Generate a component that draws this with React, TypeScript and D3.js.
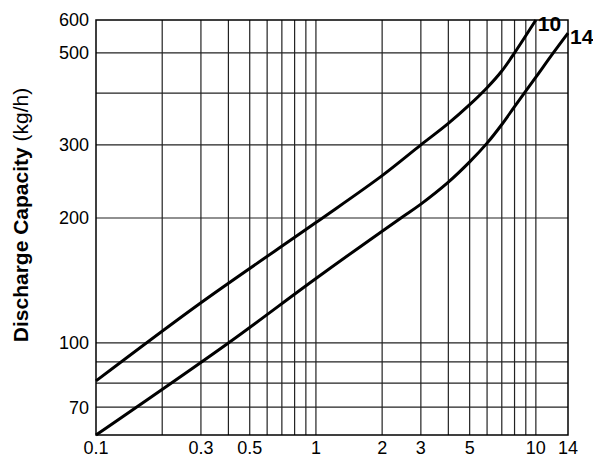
import React, { useEffect, useRef } from 'react';
import * as d3 from 'd3';

// pressure (x) vs discharge capacity (kg/h), two nozzle sizes
const flow10X = [0.1, 0.3, 1, 2, 3, 4, 5, 6, 7, 8, 10];
const flow10Y = [81, 125, 195, 253, 300, 338, 375, 412, 452, 500, 600];

const flow14X = [0.1, 0.4, 1, 2.4, 3, 4, 5, 6, 7, 8, 10, 12, 14];
const flow14Y = [60, 100, 143, 199, 216, 244, 273, 303, 336, 371, 437, 500, 558];

const xGrid = [0.2, 0.3, 0.4, 0.5, 0.6, 0.7, 0.8, 0.9, 1, 2, 3, 4, 5, 6, 7, 8, 9, 10];
const yGrid = [70, 80, 90, 100, 200, 300, 400, 500];
const xTickLabels = [0.1, 0.3, 0.5, 1, 2, 3, 5, 10, 14];
const yTickLabels = [70, 100, 200, 300, 500, 600];

const App: React.FC = () => {
    const svgRef = useRef<SVGSVGElement>(null);

    const width = 593;
    const height = 462;

    useEffect(() => {
        if (!svgRef.current) return;
        const svg = d3.select(svgRef.current);
        svg.selectAll('*').remove();

        const font = 'Liberation Sans, Arial, sans-serif';
        const margin = { top: 20, right: 25, bottom: 27, left: 96 };
        const innerWidth = width - margin.left - margin.right;
        const innerHeight = height - margin.top - margin.bottom;

        const xScale = d3.scaleLog().domain([0.1, 14]).range([0, innerWidth]);
        const yScale = d3.scaleLog().domain([60, 600]).range([innerHeight, 0]);

        const g = svg.append('g')
            .attr('transform', `translate(${margin.left},${margin.top})`);

        // grid
        g.selectAll('.vgrid').data(xGrid).enter().append('line')
            .attr('x1', d => xScale(d)).attr('x2', d => xScale(d))
            .attr('y1', 0).attr('y2', innerHeight)
            .attr('stroke', '#222').attr('stroke-width', 1.2);

        g.selectAll('.hgrid').data(yGrid).enter().append('line')
            .attr('y1', d => yScale(d)).attr('y2', d => yScale(d))
            .attr('x1', 0).attr('x2', innerWidth)
            .attr('stroke', '#222').attr('stroke-width', 1.2);

        g.append('rect')
            .attr('width', innerWidth).attr('height', innerHeight)
            .attr('fill', 'none').attr('stroke', '#000').attr('stroke-width', 1.5);

        // tick labels
        g.selectAll('.xlab').data(xTickLabels).enter().append('text')
            .attr('x', d => xScale(d))
            .attr('y', innerHeight + 19)
            .attr('text-anchor', 'middle')
            .attr('font-family', font)
            .attr('font-size', 18)
            .text(d => String(d));

        g.selectAll('.ylab').data(yTickLabels).enter().append('text')
            .attr('x', -7)
            .attr('y', d => yScale(d))
            .attr('dy', '0.35em')
            .attr('text-anchor', 'end')
            .attr('font-family', font)
            .attr('font-size', 18)
            .text(d => String(d));

        // curves
        const line = d3.line<[number, number]>()
            .x(d => xScale(d[0]))
            .y(d => yScale(d[1]))
            .curve(d3.curveCatmullRom.alpha(0.5));

        const series = [
            { name: '10', pts: flow10X.map((x, i) => [x, flow10Y[i]] as [number, number]) },
            { name: '14', pts: flow14X.map((x, i) => [x, flow14Y[i]] as [number, number]) },
        ];

        series.forEach(s => {
            g.append('path')
                .datum(s.pts)
                .attr('fill', 'none')
                .attr('stroke', '#000')
                .attr('stroke-width', 3)
                .attr('d', line);

            const last = s.pts[s.pts.length - 1];
            g.append('text')
                .attr('x', xScale(last[0]) + 2)
                .attr('y', yScale(last[1]) + 11)
                .attr('font-family', font)
                .attr('font-weight', 'bold')
                .attr('font-size', 21)
                .text(s.name);
        });

        // y axis title
        const title = svg.append('text')
            .attr('transform', `translate(28, 215) rotate(-90)`)
            .attr('text-anchor', 'middle')
            .attr('font-family', font)
            .attr('font-size', 21);
        title.append('tspan').attr('font-weight', 'bold').text('Discharge Capacity ');
        title.append('tspan').text('(kg/h)');
    }, []);

    return (
        <svg ref={svgRef} width={width} height={height}
            style={{ position: 'absolute', left: 0, top: 0, background: '#fff' }}></svg>
    );
};

export default App;
